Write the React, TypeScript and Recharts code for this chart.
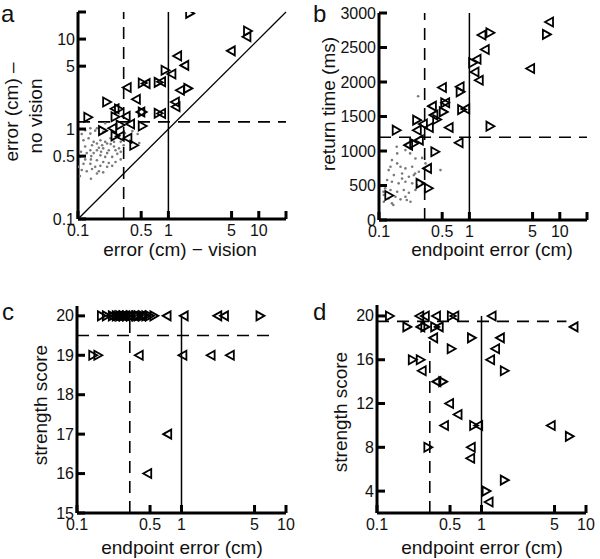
import { ScatterChart, Scatter, XAxis, YAxis, ReferenceLine } from 'recharts'

// ---- panel a: error without vision vs. with vision (log-log)
const aDots: [number, number][] = [
  [0.137, 1.02], [0.12, 0.97], [0.155, 0.96], [0.19, 0.93], [0.131, 0.79], [0.115, 0.75],
  [0.149, 0.72], [0.162, 0.69], [0.143, 0.66], [0.185, 0.66], [0.21, 0.69], [0.12, 0.64],
  [0.137, 0.58], [0.162, 0.58], [0.19, 0.61], [0.219, 0.58], [0.25, 0.64], [0.284, 0.61],
  [0.297, 0.56], [0.125, 0.54], [0.149, 0.54], [0.177, 0.51], [0.2, 0.49], [0.239, 0.49],
  [0.272, 0.53], [0.105, 0.49], [0.12, 0.46], [0.139, 0.46], [0.162, 0.45], [0.19, 0.43],
  [0.219, 0.42], [0.26, 0.43], [0.297, 0.46], [0.115, 0.41], [0.137, 0.41], [0.155, 0.38],
  [0.177, 0.39], [0.21, 0.38], [0.239, 0.39], [0.101, 0.38], [0.11, 0.35], [0.125, 0.34],
  [0.143, 0.36], [0.17, 0.34], [0.19, 0.33], [0.139, 0.28], [0.162, 0.32], [0.105, 0.3],
  [0.457, 0.88], [0.476, 0.7], [0.137, 0.89], [0.11, 0.88], [0.229, 0.79], [0.177, 0.75],
  [0.297, 0.72], [0.25, 0.72], [0.21, 0.54], [0.32, 0.66], [0.162, 1.02], [0.2, 1.16],
  [0.17, 0.62], [0.23, 0.68], [0.14, 0.5], [0.18, 0.56], [0.26, 0.58], [0.33, 0.9],
  [0.4, 0.95], [0.108, 0.56], [0.2, 0.72], [0.28, 0.8],
]
const aLeft: [number, number][] = [
  [4.9, 7.4], [1.25, 6.5], [1.5, 5.1], [1.08, 4.1], [0.346, 2.9], [0.437, 2.14], [0.56, 3.2],
  [0.83, 3.36], [1.34, 2.7], [1.18, 2.0], [1.2, 1.77], [0.254, 1.68], [0.337, 1.39],
  [0.377, 1.14], [0.49, 1.55], [0.83, 1.49], [0.239, 1.02], [0.29, 0.83], [0.352, 0.79],
  [7.3, 10.6],
]
const aRight: [number, number][] = [
  [1.74, 19.3], [7.6, 12.3], [0.93, 4.5], [0.52, 3.25], [0.78, 3.3], [1.66, 2.83], [0.21, 2.0],
  [0.284, 1.67], [0.26, 1.37], [0.296, 1.11], [0.52, 1.55], [0.78, 1.5], [0.52, 1.08],
  [0.189, 0.96], [0.26, 0.84], [0.419, 0.66], [0.13, 1.35],
]

// ---- panel b: return time vs endpoint error
const bDots: [number, number][] = [
  [0.271, 1794], [0.196, 1013], [0.139, 868], [0.159, 820], [0.173, 772], [0.196, 748],
  [0.233, 772], [0.276, 699], [0.128, 723], [0.146, 651], [0.18, 675], [0.214, 627],
  [0.243, 651], [0.123, 579], [0.139, 554], [0.165, 531], [0.196, 554], [0.233, 531],
  [0.264, 506], [0.3, 531], [0.117, 459], [0.134, 434], [0.159, 410], [0.188, 434],
  [0.214, 395], [0.253, 434], [0.113, 362], [0.128, 314], [0.152, 338], [0.173, 299],
  [0.196, 338], [0.223, 265], [0.139, 241], [0.113, 265], [0.479, 723], [0.327, 820],
  [0.134, 772], [0.159, 965], [0.253, 892], [0.157, 1061], [0.221, 965], [0.251, 675],
  [0.103, 506], [0.112, 410], [0.203, 289], [0.144, 217], [0.3, 900], [0.18, 600], [0.27, 580],
]
const bLeft: [number, number][] = [
  [7.6, 2870], [1.36, 2680], [1.48, 2470], [1.2, 2330], [1.14, 2145], [1.27, 2025], [4.7, 2195],
  [0.497, 1920], [0.78, 1930], [0.54, 1700], [0.9, 1610], [0.385, 1650], [0.4, 1520],
  [0.59, 1340], [0.76, 1120], [0.306, 1390], [0.262, 1302], [0.356, 1341], [0.21, 1085],
  [0.276, 1158], [0.34, 748],
]
const bRight: [number, number][] = [
  [7.2, 2690], [1.71, 2715], [1.1, 2280], [1.71, 1360], [0.8, 1857], [0.54, 1700], [0.83, 1600],
  [0.52, 1567], [0.44, 1457], [0.264, 1447], [0.157, 1302], [0.245, 1110], [0.42, 990],
  [0.288, 531], [0.356, 459], [0.13, 355],
]

// ---- panel c: strength score (15-20)
const cLeft: [number, number][] = [
  [0.21, 20], [0.23, 20], [0.25, 20], [0.27, 20], [0.29, 20], [0.31, 20], [0.35, 20], [0.41, 20],
  [0.72, 20], [1.05, 20], [2.2, 20], [2.55, 20], [0.39, 19], [1.02, 19], [1.9, 19], [2.9, 19],
  [0.73, 17], [0.47, 16],
]
const cRight: [number, number][] = [
  [0.173, 20], [0.193, 20], [0.22, 20], [0.24, 20], [0.26, 20], [0.28, 20], [0.3, 20], [0.33, 20],
  [0.37, 20], [0.39, 20], [0.43, 20], [0.46, 20], [0.5, 20], [0.55, 20], [5.7, 20],
  [0.143, 19], [0.16, 19],
]

// ---- panel d: strength score (full range)
const dLeft: [number, number][] = [
  [0.254, 20], [0.287, 20], [0.367, 20], [0.55, 20], [1.25, 20], [0.26, 19], [0.39, 19],
  [7.6, 19], [0.345, 18], [1.5, 18], [1.35, 17], [1.21, 16], [0.268, 15], [0.37, 14], [0.49, 12],
  [0.59, 11], [0.438, 10], [0.93, 10], [4.6, 10], [0.79, 8], [0.78, 7], [1.17, 3],
]
const dRight: [number, number][] = [
  [0.133, 20], [0.52, 20], [0.195, 19], [0.29, 19], [0.36, 19], [0.81, 18], [0.518, 17],
  [0.22, 16], [0.262, 16], [1.67, 15], [0.43, 14], [0.85, 10], [7.0, 9], [0.31, 8], [1.67, 5],
  [1.12, 4],
]

const logTicksWide = [0.1, 0.5, 1, 5, 10, 20]
const logTicks = [0.1, 0.5, 1, 5, 10]
const returnTicks = [0, 500, 1000, 1500, 2000, 2500, 3000]
const scoreTicksC = [15, 16, 17, 18, 19, 20]
const scoreTicksD = [4, 8, 12, 16, 20]

const FONT = '"Liberation Sans", Arial, Helvetica, sans-serif'
const INK = '#000'

const pts = (arr: [number, number][]) => arr.map(([x, y]) => ({ x, y }))

// label text for a tick, blank for the axis-end stubs
const tickText = (v: number, blank: number[]) => (blank.includes(v) ? '' : String(v))

function XTick(props: any) {
  const { x, y, payload, blank = [] } = props
  const label = tickText(payload.value, blank)
  return (
    <g>
      <line x1={x} x2={x} y1={y} y2={y - 8} stroke={INK} strokeWidth={3} />
      {label && (
        <text x={x} y={y + 17} textAnchor="middle" fontSize={16} fontFamily={FONT} fill="#111">
          {label}
        </text>
      )}
    </g>
  )
}

function YTick(props: any) {
  const { x, y, payload, blank = [] } = props
  const label = tickText(payload.value, blank)
  return (
    <g>
      <line x1={x} x2={x + 8} y1={y} y2={y} stroke={INK} strokeWidth={3} />
      {label && (
        <text x={x - 3} y={y + 5.5} textAnchor="end" fontSize={16} fontFamily={FONT} fill="#111">
          {label}
        </text>
      )}
    </g>
  )
}

const leftTri = (p: any) => (
  <path
    d={`M${p.cx - 4},${p.cy} L${p.cx + 4},${p.cy - 4.5} L${p.cx + 4},${p.cy + 4.5} Z`}
    fill="none"
    stroke={INK}
    strokeWidth={1.8}
  />
)
const rightTri = (p: any) => (
  <path
    d={`M${p.cx + 4},${p.cy} L${p.cx - 4},${p.cy - 4.5} L${p.cx - 4},${p.cy + 4.5} Z`}
    fill="none"
    stroke={INK}
    strokeWidth={1.8}
  />
)
const grayDot = (p: any) => <circle cx={p.cx} cy={p.cy} r={1.3} fill="#7a7a7a" />

const axisLine = { stroke: INK, strokeWidth: 3 }
const solid = { stroke: INK, strokeWidth: 1.5 }
const dashed = { stroke: INK, strokeWidth: 1.6, strokeDasharray: '12 8' }

export default function App() {
  return (
    <div
      style={{
        position: 'absolute',
        left: 0,
        top: 0,
        width: 600,
        height: 559,
        background: '#fff',
        fontFamily: FONT,
      }}
    >
      {/* a */}
      <div style={{ position: 'absolute', left: 0, top: 0 }}>
        <ScatterChart width={300} height={280} margin={{ top: 12, right: 14, bottom: 0, left: 0 }}>
          <XAxis
            type="number" dataKey="x" scale="log" domain={[0.1, 20]} allowDataOverflow
            ticks={logTicksWide} interval={0} height={61} tickSize={0} tickMargin={0}
            tickLine={false} axisLine={axisLine} tick={<XTick blank={[20]} />}
          />
          <YAxis
            type="number" dataKey="y" scale="log" domain={[0.1, 20]} allowDataOverflow
            ticks={logTicksWide} interval={0} width={78} tickSize={0} tickMargin={0}
            tickLine={false} axisLine={axisLine} tick={<YTick blank={[20]} />}
          />
          <ReferenceLine segment={[{ x: 0.1, y: 0.1 }, { x: 20, y: 20 }]} {...solid} strokeWidth={1.3} />
          <ReferenceLine x={1} {...solid} />
          <ReferenceLine x={0.32} {...dashed} />
          <ReferenceLine y={1.2} {...dashed} />
          <Scatter data={pts(aDots)} shape={grayDot} isAnimationActive={false} />
          <Scatter data={pts(aLeft)} shape={leftTri} isAnimationActive={false} />
          <Scatter data={pts(aRight)} shape={rightTri} isAnimationActive={false} />
        </ScatterChart>
      </div>

      {/* b */}
      <div style={{ position: 'absolute', left: 300, top: 0 }}>
        <ScatterChart width={300} height={280} margin={{ top: 13, right: 13, bottom: 0, left: 0 }}>
          <XAxis
            type="number" dataKey="x" scale="log" domain={[0.1, 20]} allowDataOverflow
            ticks={logTicksWide} interval={0} height={60} tickSize={0} tickMargin={0}
            tickLine={false} axisLine={axisLine} tick={<XTick blank={[20]} />}
          />
          <YAxis
            type="number" dataKey="y" domain={[0, 3000]} allowDataOverflow
            ticks={returnTicks} interval={0} width={79} tickSize={0} tickMargin={0}
            tickLine={false} axisLine={axisLine} tick={<YTick />}
          />
          <ReferenceLine x={1} {...solid} />
          <ReferenceLine x={0.32} {...dashed} />
          <ReferenceLine y={1200} {...dashed} />
          <Scatter data={pts(bDots)} shape={grayDot} isAnimationActive={false} />
          <Scatter data={pts(bLeft)} shape={leftTri} isAnimationActive={false} />
          <Scatter data={pts(bRight)} shape={rightTri} isAnimationActive={false} />
        </ScatterChart>
      </div>

      {/* c */}
      <div style={{ position: 'absolute', left: 0, top: 280 }}>
        <ScatterChart width={300} height={279} margin={{ top: 26, right: 14, bottom: 0, left: 0 }}>
          <XAxis
            type="number" dataKey="x" scale="log" domain={[0.1, 10]} allowDataOverflow
            ticks={logTicks} interval={0} height={46} tickSize={0} tickMargin={0}
            tickLine={false} axisLine={axisLine} tick={<XTick />}
          />
          <YAxis
            type="number" dataKey="y" domain={[15, 20.25]} allowDataOverflow
            ticks={scoreTicksC} interval={0} width={77} tickSize={0} tickMargin={0}
            tickLine={false} axisLine={axisLine} tick={<YTick />}
          />
          <ReferenceLine segment={[{ x: 1, y: 15 }, { x: 1, y: 20 }]} {...solid} />
          <ReferenceLine segment={[{ x: 0.32, y: 15 }, { x: 0.32, y: 20 }]} {...dashed} />
          <ReferenceLine segment={[{ x: 0.1, y: 19.5 }, { x: 7.5, y: 19.5 }]} {...dashed} />
          <Scatter data={pts(cLeft)} shape={leftTri} isAnimationActive={false} />
          <Scatter data={pts(cRight)} shape={rightTri} isAnimationActive={false} />
        </ScatterChart>
      </div>

      {/* d */}
      <div style={{ position: 'absolute', left: 300, top: 280 }}>
        <ScatterChart width={300} height={279} margin={{ top: 25, right: 14, bottom: 0, left: 0 }}>
          <XAxis
            type="number" dataKey="x" scale="log" domain={[0.1, 10]} allowDataOverflow
            ticks={logTicks} interval={0} height={46} tickSize={0} tickMargin={0}
            tickLine={false} axisLine={axisLine} tick={<XTick />}
          />
          <YAxis
            type="number" dataKey="y" domain={[2, 21]} allowDataOverflow
            ticks={scoreTicksD} interval={0} width={77} tickSize={0} tickMargin={0}
            tickLine={false} axisLine={axisLine} tick={<YTick />}
          />
          <ReferenceLine segment={[{ x: 1, y: 2 }, { x: 1, y: 20 }]} {...solid} />
          <ReferenceLine segment={[{ x: 0.32, y: 2 }, { x: 0.32, y: 18 }]} {...dashed} />
          <ReferenceLine segment={[{ x: 0.1, y: 19.5 }, { x: 6.5, y: 19.5 }]} {...dashed} />
          <Scatter data={pts(dLeft)} shape={leftTri} isAnimationActive={false} />
          <Scatter data={pts(dRight)} shape={rightTri} isAnimationActive={false} />
        </ScatterChart>
      </div>

      {/* panel letters and axis titles */}
      <svg
        width={600}
        height={559}
        style={{ position: 'absolute', left: 0, top: 0, pointerEvents: 'none' }}
        fontFamily={FONT}
        fill="#111"
      >
        <text x={1} y={22} fontSize={24}>a</text>
        <text x={313} y={22} fontSize={24}>b</text>
        <text x={2} y={320} fontSize={24}>c</text>
        <text x={313} y={320} fontSize={24}>d</text>

        <text x={180} y={256} fontSize={19} textAnchor="middle">error (cm) − vision</text>
        <text x={492} y={256} fontSize={19} textAnchor="middle">endpoint error (cm)</text>
        <text x={182} y={554} fontSize={19} textAnchor="middle">endpoint error (cm)</text>
        <text x={482} y={554} fontSize={19} textAnchor="middle">endpoint error (cm)</text>

        <text transform="translate(18,112) rotate(-90)" fontSize={19} textAnchor="middle">error (cm) –</text>
        <text transform="translate(42,116) rotate(-90)" fontSize={19} textAnchor="middle">no vision</text>
        <text transform="translate(335,104) rotate(-90)" fontSize={19} textAnchor="middle">return time (ms)</text>
        <text transform="translate(47,405) rotate(-90)" fontSize={19} textAnchor="middle">strength score</text>
        <text transform="translate(347,412) rotate(-90)" fontSize={19} textAnchor="middle">strength score</text>
      </svg>
    </div>
  )
}
